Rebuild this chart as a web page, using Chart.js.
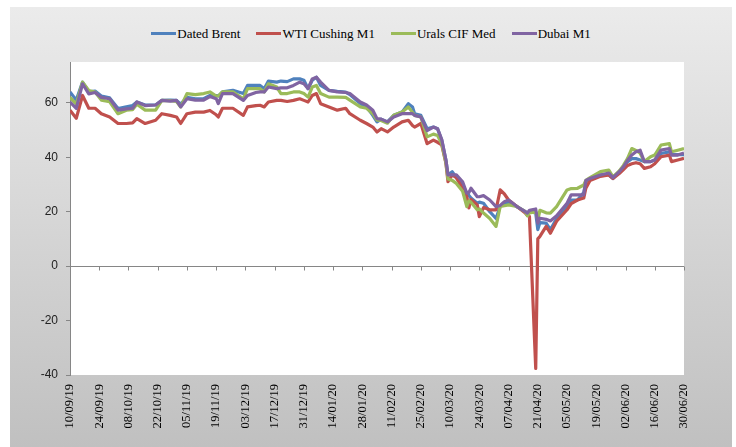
<!DOCTYPE html>
<html>
<head>
<meta charset="utf-8">
<title>Crude benchmarks</title>
<script src="https://cdn.jsdelivr.net/npm/chart.js@4.4.1/dist/chart.umd.min.js"></script>
<style>
  body { margin: 0; background: #fff; }
  #frame {
    position: absolute; left: 10px; top: 7px; width: 722px; height: 440px;
    background: linear-gradient(#ebebeb, #c0c0c0);
  }
  #legend {
    position: absolute; left: 0; right: 0; top: 19px; display: flex; justify-content: center;
    font: 13px 'Liberation Serif', 'Times New Roman', serif; color: #000; line-height: 15px;
  }
  .item { display: flex; align-items: center; margin: 0 8px; }
  .swatch { width: 25px; height: 3px; margin-right: 1px; }
  canvas { position: absolute; left: 0; top: 0; }
</style>
</head>
<body>
<div id="frame">
  <div id="legend"></div>
  <canvas id="oilChart" width="722" height="440"></canvas>
</div>
<script>
'use strict';

/* ── Data ── */
// days since 10/09/19
const dayIndex = [
  0, 3, 6, 9, 12, 15, 19, 23, 27, 30,
  32, 36, 41, 44, 48, 51, 53, 56, 60, 64,
  67, 70, 71, 73, 78, 83, 85, 89, 91, 93,
  95, 99, 101, 104, 107, 110, 112, 114, 116, 118,
  120, 124, 128, 132, 134, 139, 142, 145, 147, 149,
  152, 155, 159, 162, 164, 165, 168, 171, 174, 176,
  178, 180, 181, 183, 185, 188, 190, 191, 192, 195,
  196, 198, 201, 204, 206, 208, 210, 214, 218, 219,
  220, 223, 224, 225, 228, 230, 233, 238, 240, 243,
  246, 247, 249, 254, 258, 260, 263, 265, 267, 269,
  271, 273, 275, 278, 280, 283, 287, 288, 291, 294
];

const datedBrent = [
  64, 61, 67.6, 64, 64.3, 62.5, 61.8, 57.9, 58.5, 59,
  60.3, 59.2, 59.2, 60.9, 61, 60.9, 59.5, 62, 61.5, 61.5,
  62.7, 62.7, 62.5, 64, 64.6, 63.4, 66.4, 66.4, 66.4, 65.2,
  68, 67.6, 68, 67.8, 68.8, 68.8, 68.3, 65.2, 68.3, 69.4,
  66.4, 64.6, 64.2, 63.9, 63, 59.7, 58.5, 55.4, 53, 54,
  53, 55.4, 56.6, 59.7, 58.5, 56, 55.4, 50.5, 51.1, 50.5,
  46.3, 39, 33.5, 34.7, 32.5, 29.8, 26.8, 26, 25, 23.1,
  23.5, 23.1, 20, 17.5, 22, 23, 23.5, 21.9, 20, 18.7,
  20, 19.5, 13.4, 16, 15.8, 13.4, 17.5, 22, 24.3, 24.3,
  27, 31, 32.2, 33.5, 33.5, 32.2, 34.7, 36.5, 38.4, 39.5,
  39.5, 39, 38.4, 38.4, 39, 41.4, 42, 41, 41, 41
];

const wtiCushing = [
  57.3, 54.3, 62.7, 58, 58, 56, 54.8, 52.4, 52.4, 52.6,
  54.2, 52.4, 53.6, 56, 55.4, 54.8, 52.4, 56, 56.6, 56.6,
  57.2, 55.6, 54.8, 58, 58, 55.4, 58.5, 59, 59.1, 58.5,
  60.3, 60.9, 60.9, 60.5, 60.9, 61.5, 60.9, 60.3, 62.7, 63.4,
  59.7, 58.5, 57.3, 58, 56, 53.6, 52.4, 51.1, 49.3, 50.5,
  49.3, 51.1, 53, 53.6, 51.7, 51.1, 52.4, 45, 46.3, 45.5,
  44.5, 37.8, 31, 33.5, 32.5, 28.5, 25.6, 21.4, 24.5, 22.5,
  18.2, 21.5, 20.7, 20.7, 28, 26.5, 24.3, 21.9, 19.5, 18.7,
  18.3, -37.6, 10, 10.9, 14.6, 12.1, 16.5, 20.7, 23, 24.3,
  25, 28.6, 31.5, 33, 33.5, 32.2, 34, 35.5, 37, 37.6,
  38, 37.6, 35.9, 36.5, 37.6, 40.2, 40.8, 38.4, 39, 39.6
];

const uralsMed = [
  62, 59.5, 67.6, 64.5, 64, 61, 60.4, 56, 57.3, 57.5,
  59.5, 57.3, 57.3, 60.9, 60.8, 60.5, 58.5, 63.4, 63, 63.4,
  64, 62.5, 62.5, 64, 64, 61.5, 65.2, 65.2, 65.2, 64,
  67, 65.8, 63.4, 63.4, 64, 64, 63.4, 62.1, 65.8, 66.4,
  63.4, 62.1, 62.1, 62, 61, 58.5, 58, 56, 53.6, 53.5,
  52.5, 55.4, 56.6, 58.5, 56.5, 55.4, 54.8, 47.5, 48.5, 48,
  45, 38, 32, 31.5, 30.4, 27.5, 21.9, 24, 23.5, 20.7,
  21, 19.5, 17.5, 14.6, 21.9, 22.2, 22.5, 21.9, 20, 18.5,
  19.5, 20, 17, 20.5, 19.6, 19.5, 21.9, 28, 28.5, 28.6,
  29.8, 31.5, 32.5, 34.7, 35.3, 32.8, 35, 37, 39.6, 43.2,
  42.5, 41.5, 38.4, 40.2, 40.8, 44.5, 45, 42, 42.6, 43.2
];

const dubaiM1 = [
  60.3, 58, 67, 63.3, 63.8, 62, 61.5, 57.3, 57.8, 58,
  60.3, 59, 59.2, 60.9, 60.6, 60.9, 58.5, 61.5, 61, 61,
  62.3, 61.5, 59.7, 63.4, 63.4, 60.9, 62.7, 63.8, 64, 64,
  65.8, 65.2, 65.5, 65.5, 66.4, 67.6, 67, 65.2, 68.8, 69.4,
  67.6, 64.6, 64, 63.8, 63.4, 60.3, 59.2, 57.3, 54.2, 54,
  53, 54.8, 56, 56, 56, 55.4, 54.8, 49.8, 51.1, 50.5,
  46.5, 39, 33.5, 33.5, 33.5, 31, 26.8, 27, 28.6, 25.5,
  25.5, 25.9, 24.3, 21.9, 22.3, 23.7, 24.3, 21.9, 20, 19.5,
  20.5, 21, 15.8, 17.6, 17.2, 16.6, 18.5, 23.1, 26.2, 26.2,
  26.2, 31.5, 32.2, 33.5, 34.2, 32.5, 34.7, 36.5, 38.9, 40.8,
  42, 42.6, 38.4, 38.4, 39, 42.6, 43.2, 40.8, 40.8, 41.6
];

// one label every 14 days
const tickLabels = [
  '10/09/19', '24/09/19', '08/10/19', '22/10/19', '05/11/19', '19/11/19',
  '03/12/19', '17/12/19', '31/12/19', '14/01/20', '28/01/20', '11/02/20',
  '25/02/20', '10/03/20', '24/03/20', '07/04/20', '21/04/20', '05/05/20',
  '19/05/20', '02/06/20', '16/06/20', '30/06/20'
];

const seriesNames  = ['Dated Brent', 'WTI Cushing M1', 'Urals CIF Med', 'Dubai M1'];
const seriesValues = [datedBrent, wtiCushing, uralsMed, dubaiM1];
const seriesColors = ['#4F81BD', '#C0504D', '#9BBB59', '#8064A2'];

/* ── Plugins ── */
const plotBackground = {
  id: 'plotBackground',
  beforeDraw(chart) {
    const { ctx, chartArea: a } = chart;
    ctx.save();
    ctx.fillStyle = '#fff';
    ctx.fillRect(a.left, a.top, a.right - a.left, a.bottom - a.top);
    ctx.restore();
  }
};

// horizontal axis crosses at 0, labels stay at the bottom
const zeroAxis = {
  id: 'zeroAxis',
  beforeDatasetsDraw(chart) {
    const { ctx, chartArea: a, scales: { x, y } } = chart;
    const y0 = Math.round(y.getPixelForValue(0)) + 0.5;
    ctx.save();
    ctx.strokeStyle = '#868686';
    ctx.lineWidth = 1;
    ctx.beginPath();
    ctx.moveTo(a.left, y0);
    ctx.lineTo(a.right, y0);
    x.ticks.forEach(t => {
      const px = Math.round(x.getPixelForValue(t.value)) + 0.5;
      ctx.moveTo(px, y0);
      ctx.lineTo(px, y0 + 4);
    });
    ctx.stroke();
    ctx.restore();
  }
};

/* ── Chart ── */
(function initOilChart() {
  const ctx = document.getElementById('oilChart');

  new Chart(ctx, {
    type: 'line',
    data: {
      datasets: seriesNames.map((name, i) => ({
        label: name,
        data: dayIndex.map((d, k) => ({ x: d, y: seriesValues[i][k] })),
        borderColor: seriesColors[i],
        backgroundColor: seriesColors[i],
        borderWidth: 3.2,
        pointRadius: 0,
        tension: 0,
        borderJoinStyle: 'round',
        order: seriesNames.length - i,
      }))
    },
    options: {
      responsive: false,
      animation: false,
      layout: { padding: { top: 55, right: 48, left: 0, bottom: 0 } },
      plugins: { legend: { display: false }, tooltip: { enabled: false } },
      scales: {
        x: {
          type: 'linear',
          min: 0,
          max: 294,
          afterFit: s => { s.height = 72; },
          grid: { display: false, drawTicks: false },
          border: { display: false },
          ticks: {
            stepSize: 14,
            autoSkip: false,
            minRotation: 90,
            maxRotation: 90,
            padding: 9,
            color: '#000',
            font: { family: "'Liberation Serif', serif", size: 12.5 },
            callback: v => tickLabels[Math.round(v / 14)] || '',
          }
        },
        y: {
          min: -40,
          max: 75,
          afterFit: s => { s.width = 60; },
          afterBuildTicks: s => { s.ticks = s.ticks.filter(t => t.value % 20 === 0); },
          grid: { drawOnChartArea: false, color: '#868686', tickLength: 4 },
          border: { color: '#868686' },
          ticks: {
            stepSize: 20,
            padding: 8,
            color: '#222',
            font: { family: "'Liberation Sans', sans-serif", size: 12 },
          }
        }
      }
    },
    plugins: [plotBackground, zeroAxis]
  });

  /* custom legend */
  document.getElementById('legend').innerHTML = seriesNames.map((name, i) => `
    <div class="item"><span class="swatch" style="background:${seriesColors[i]}"></span><span>${name}</span></div>`).join('');
})();
</script>
</body>
</html>
